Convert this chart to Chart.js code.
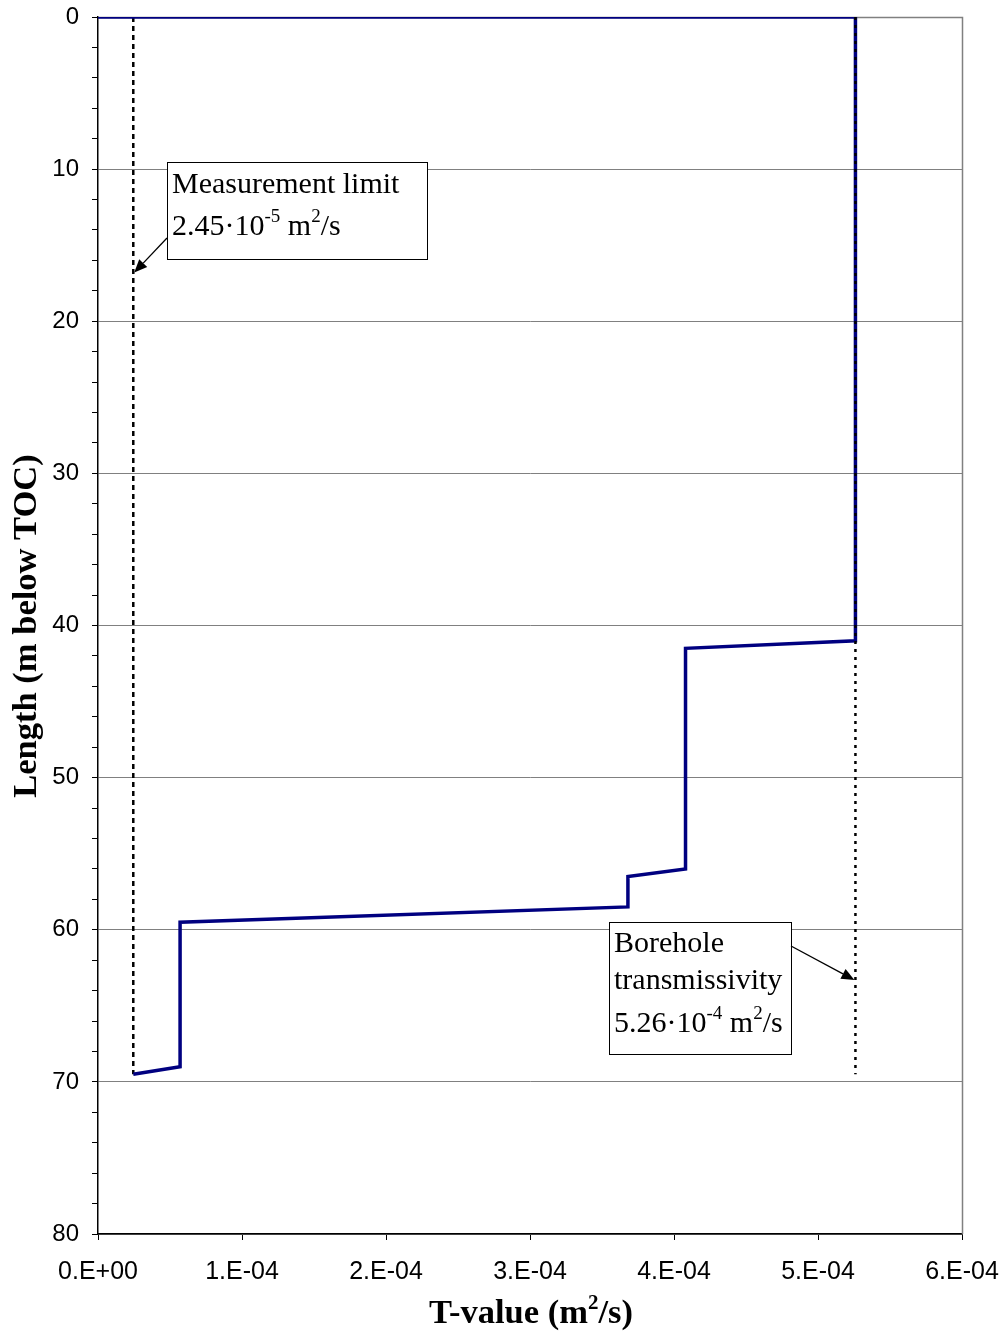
<!DOCTYPE html>
<html>
<head>
<meta charset="utf-8">
<script src="https://cdn.jsdelivr.net/npm/chart.js@4"></script>
<style>
html,body{margin:0;padding:0;background:#fff;}
#wrap{position:relative;width:1004px;height:1333px;}
</style>
</head>
<body>
<div id="wrap"><canvas id="c" width="1004" height="1333"></canvas></div>
<script>
// ---- data ----
const profileT = [0, 5.26e-4, 5.26e-4, 4.08e-4, 4.08e-4, 3.68e-4, 3.68e-4, 0.57e-4, 0.57e-4, 2.45e-5];
const profileDepth = [0, 0, 41.0, 41.5, 56.0, 56.5, 58.5, 59.5, 69.0, 69.5];
const limitT = 2.45e-5;
const boreholeT = 5.26e-4;
const refDepth = [0, 69.5];
const xTickLabels = ["0.E+00","1.E-04","2.E-04","3.E-04","4.E-04","5.E-04","6.E-04"];
const yMajorTicks = [0,10,20,30,40,50,60,70,80];

const profileData = profileT.map((t,i)=>({x:t,y:profileDepth[i]}));
const limitData = refDepth.map(d=>({x:limitT,y:d}));
const boreData = refDepth.map(d=>({x:boreholeT,y:d}));

const SERIF = '"Liberation Serif","Times New Roman",serif';
const SANS = '"Liberation Sans",Arial,sans-serif';

function richText(ctx, x, y, parts, size){
  let cx = x;
  for(const [t,sup] of parts){
    if(sup){
      ctx.font = Math.round(size*0.62)+'px '+SERIF;
      ctx.fillText(t, cx, y - size*0.42);
    } else {
      ctx.font = size+'px '+SERIF;
      ctx.fillText(t, cx, y);
    }
    cx += ctx.measureText(t).width;
  }
  return cx;
}
function boldRich(ctx, x, y, parts, size, align){
  let total=0;
  for(const [t,sup] of parts){
    ctx.font = 'bold '+(sup?Math.round(size*0.62):size)+'px '+SERIF;
    total += ctx.measureText(t).width;
  }
  let cx = align==='center' ? x-total/2 : x;
  for(const [t,sup] of parts){
    ctx.font = 'bold '+(sup?Math.round(size*0.62):size)+'px '+SERIF;
    ctx.fillText(t, cx, sup ? y - size*0.42 : y);
    cx += ctx.measureText(t).width;
  }
}
function arrow(ctx, x1,y1,x2,y2){
  ctx.save();
  ctx.strokeStyle='#000'; ctx.fillStyle='#000'; ctx.lineWidth=1.3;
  const a=Math.atan2(y2-y1,x2-x1), L=13, W=5.5;
  const bx=x2-L*Math.cos(a), by=y2-L*Math.sin(a);
  ctx.beginPath(); ctx.moveTo(x1,y1); ctx.lineTo(bx,by); ctx.stroke();
  ctx.beginPath(); ctx.moveTo(x2,y2);
  ctx.lineTo(bx+W*Math.sin(a), by-W*Math.cos(a));
  ctx.lineTo(bx-W*Math.sin(a), by+W*Math.cos(a));
  ctx.closePath(); ctx.fill();
  ctx.restore();
}

const deco = {
  id:'deco',
  beforeDatasetsDraw(chart){
    const {ctx, chartArea:a} = chart;
    ctx.save();
    ctx.strokeStyle='#808080'; ctx.lineWidth=1.5;
    ctx.beginPath();
    ctx.moveTo(a.left, a.top+0.5); ctx.lineTo(a.right+0.5, a.top+0.5); ctx.lineTo(a.right+0.5, a.bottom);
    ctx.stroke();
    ctx.restore();
  },
  afterDraw(chart){
    const {ctx, scales} = chart;
    const xs=scales.x, ys=scales.y;
    ctx.save();
    ctx.textBaseline='alphabetic';
    // box 1
    ctx.fillStyle='#fff'; ctx.fillRect(167,162,260,97);
    ctx.strokeStyle='#000'; ctx.lineWidth=1; ctx.strokeRect(167.5,162.5,260,97);
    ctx.fillStyle='#000';
    richText(ctx,172,193,[["Measurement limit",false]],30);
    richText(ctx,172,235,[["2.45·10",false],["-5",true],[" m",false],["2",true],["/s",false]],30);
    arrow(ctx,167,238,xs.getPixelForValue(limitT)+1,ys.getPixelForValue(16.8));
    // box 2
    ctx.fillStyle='#fff'; ctx.fillRect(609,922,182,132);
    ctx.strokeStyle='#000'; ctx.strokeRect(609.5,922.5,182,132);
    ctx.fillStyle='#000';
    richText(ctx,614,952,[["Borehole",false]],30);
    richText(ctx,614,989,[["transmissivity",false]],30);
    richText(ctx,614,1032,[["5.26·10",false],["-4",true],[" m",false],["2",true],["/s",false]],30);
    arrow(ctx,791,946,xs.getPixelForValue(boreholeT)-1,ys.getPixelForValue(63.3));
    // axis titles
    boldRich(ctx,531,1323,[["T-value (m",false],["2",true],["/s)",false]],34.5,'center');
    ctx.translate(36,626); ctx.rotate(-Math.PI/2);
    ctx.textAlign='center';
    ctx.font='bold 34.5px '+SERIF;
    ctx.fillText('Length (m below TOC)',0,0);
    ctx.restore();
  }
};

new Chart(document.getElementById('c'),{
  type:'scatter',
  data:{datasets:[
    {data:limitData, showLine:true, borderColor:'#000', borderWidth:2.5, borderDash:[5,4], pointRadius:0, order:2},
    {data:profileData, showLine:true, borderColor:'#000080', borderWidth:3.5, pointRadius:0, order:1},
    {data:boreData, showLine:true, borderColor:'#000', borderWidth:2.5, borderDash:[3,5], pointRadius:0, order:0}
  ]},
  options:{
    responsive:false, animation:false, devicePixelRatio:1,
    layout:{padding:{top:17,right:42,left:0,bottom:0}},
    plugins:{legend:{display:false},tooltip:{enabled:false}},
    scales:{
      x:{
        type:'linear', min:0, max:6e-4,
        afterFit(s){ s.height = 99; s.paddingLeft = 0; s.paddingRight = 0; },
        afterBuildTicks(s){ s.ticks = xTickLabels.map((_,i)=>({value:i*1e-4})); },
        ticks:{ color:'#000', font:{family:SANS,size:25}, padding:17, maxRotation:0,
          callback:(v,i)=>xTickLabels[i] },
        grid:{ drawOnChartArea:false, tickLength:6, tickColor:'#000' },
        border:{ color:'#000', width:1.5 }
      },
      y:{
        type:'linear', reverse:true, min:0, max:80,
        afterFit(s){ s.width = 98; s.paddingTop = 0; s.paddingBottom = 0; },
        afterBuildTicks(s){ const t=[]; for(let v=0; v<=80; v+=2) t.push({value:v}); s.ticks=t; },
        ticks:{ color:'#000', font:{family:SANS,size:24}, padding:13, autoSkip:false,
          callback:(v)=> yMajorTicks.includes(v) ? String(v) : '' },
        grid:{ color:(c)=> (c.tick && yMajorTicks.includes(c.tick.value)) ? '#808080' : 'rgba(0,0,0,0)',
          lineWidth:1, tickLength:6, tickColor:'#000' },
        border:{ color:'#000', width:1.5 }
      }
    }
  },
  plugins:[deco]
});
</script>
</body>
</html>
